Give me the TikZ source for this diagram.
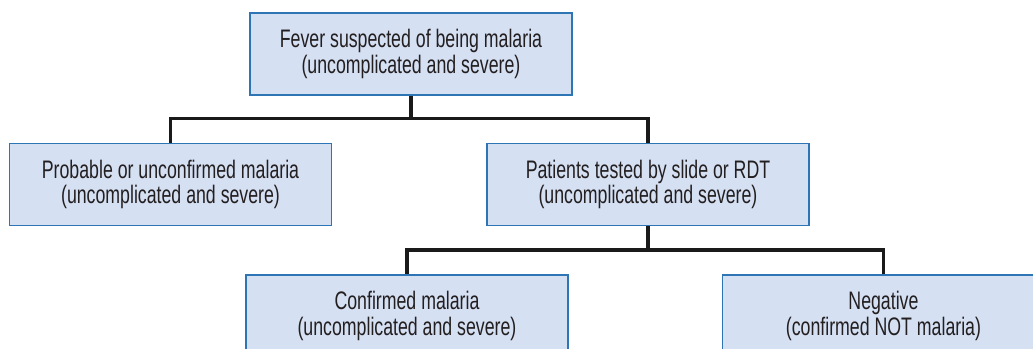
\documentclass[tikz,border=0pt]{standalone}
\usepackage{fontspec}
\setmainfont{Liberation Sans}[FakeStretch=0.70]
\usetikzlibrary{positioning}
\definecolor{flowfill}{RGB}{213,224,243}
\definecolor{flowborder}{RGB}{46,117,182}
\definecolor{flowtext}{RGB}{35,31,32}
\definecolor{flowline}{RGB}{26,26,26}
\tikzset{
  box/.style={draw=flowborder, fill=flowfill, line width=1.1pt, align=center, text=flowtext, font=\fontsize{19}{19}\selectfont, minimum width=241.5pt, minimum height=61.5pt, inner sep=0pt},
  link/.style={line width=2.6pt, flowline}
}
\begin{document}
\begin{tikzpicture}
                \useasboundingbox (0,0) rectangle (774.75pt,-261.75pt);
                \clip (0,0) rectangle (774.75pt,-261.75pt);
                \node[box] (fever) at (308.25pt,-40.5pt) {Fever suspected of being malaria\\(uncomplicated and severe)};
                \node[box, below=35.25pt of fever, xshift=177.75pt] (tested) {Patients tested by slide or RDT\\(uncomplicated and severe)};
                \node[box, left=115.5pt of tested] (probable) {Probable or unconfirmed malaria\\(uncomplicated and severe)};
                \node[box, below=36pt of tested, xshift=-180.75pt] (confirmed) {Confirmed malaria\\(uncomplicated and severe)};
                \node[box, right=114.75pt of confirmed] (negative) {Negative\\(confirmed NOT malaria)};
                \coordinate[below=17.25pt of fever.south] (split1);
                \coordinate[below=18pt of tested.south] (split2);
                \draw[link] (fever.south) -- (split1);
                \draw[link] (probable.north) |- (split1) -| (tested.north);
                \draw[link] (tested.south) -- (split2);
                \draw[link] (confirmed.north) |- (split2) -| (negative.north);
            \end{tikzpicture}
\end{document}
